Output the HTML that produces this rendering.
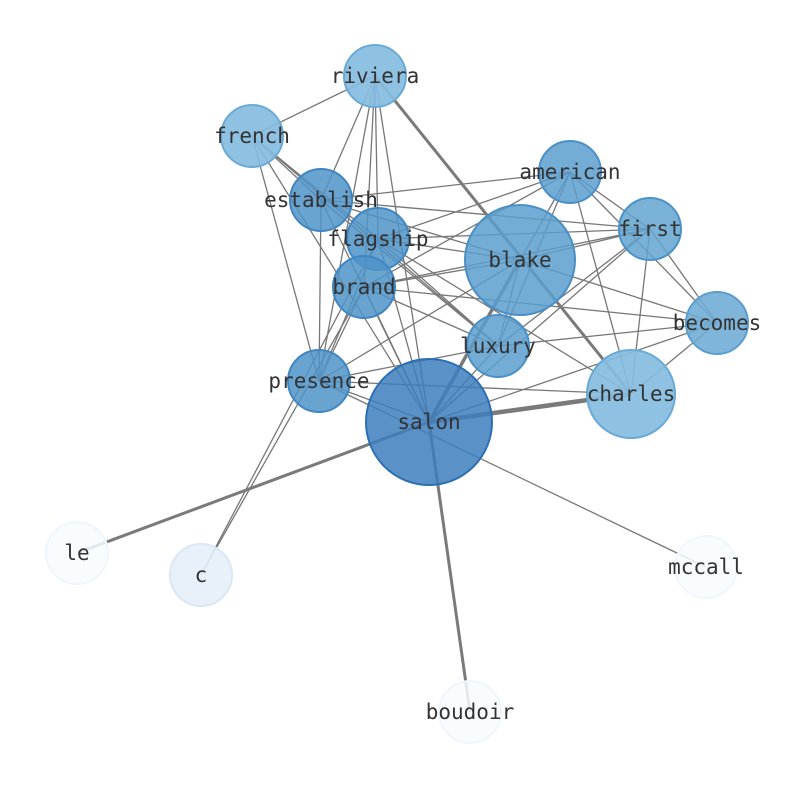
<!DOCTYPE html>
<html><head><meta charset="utf-8"><style>html,body{margin:0;padding:0;background:#fff}svg{display:block}</style></head>
<body>
<svg width="794" height="790" viewBox="0 0 794 790" xmlns="http://www.w3.org/2000/svg">
<g stroke="#777" stroke-width="1.3" fill="none">
<line x1="375" y1="76" x2="252" y2="136"/>
<line x1="375" y1="76" x2="321" y2="200"/>
<line x1="375" y1="76" x2="378" y2="239"/>
<line x1="375" y1="76" x2="364" y2="287"/>
<line x1="375" y1="76" x2="319" y2="381"/>
<line x1="375" y1="76" x2="429" y2="422"/>
<line x1="252" y1="136" x2="321" y2="200"/>
<line x1="252" y1="136" x2="378" y2="239"/>
<line x1="252" y1="136" x2="498" y2="346"/>
<line x1="252" y1="136" x2="319" y2="381"/>
<line x1="252" y1="136" x2="429" y2="422"/>
<line x1="321" y1="200" x2="570" y2="172"/>
<line x1="321" y1="200" x2="650" y2="229"/>
<line x1="321" y1="200" x2="520" y2="260"/>
<line x1="321" y1="200" x2="498" y2="346"/>
<line x1="321" y1="200" x2="429" y2="422"/>
<line x1="321" y1="200" x2="319" y2="381"/>
<line x1="570" y1="172" x2="378" y2="239"/>
<line x1="570" y1="172" x2="364" y2="287"/>
<line x1="570" y1="172" x2="650" y2="229"/>
<line x1="570" y1="172" x2="717" y2="323"/>
<line x1="570" y1="172" x2="631" y2="394"/>
<line x1="570" y1="172" x2="498" y2="346"/>
<line x1="570" y1="172" x2="429" y2="422"/>
<line x1="378" y1="239" x2="650" y2="229"/>
<line x1="378" y1="239" x2="520" y2="260"/>
<line x1="378" y1="239" x2="319" y2="381"/>
<line x1="378" y1="239" x2="498" y2="346"/>
<line x1="378" y1="239" x2="429" y2="422"/>
<line x1="378" y1="239" x2="631" y2="394"/>
<line x1="378" y1="239" x2="201" y2="575"/>
<line x1="364" y1="287" x2="520" y2="260"/>
<line x1="364" y1="287" x2="650" y2="229"/>
<line x1="364" y1="287" x2="717" y2="323"/>
<line x1="364" y1="287" x2="498" y2="346"/>
<line x1="364" y1="287" x2="319" y2="381"/>
<line x1="364" y1="287" x2="429" y2="422"/>
<line x1="364" y1="287" x2="201" y2="575"/>
<line x1="650" y1="229" x2="520" y2="260"/>
<line x1="650" y1="229" x2="498" y2="346"/>
<line x1="650" y1="229" x2="429" y2="422"/>
<line x1="650" y1="229" x2="717" y2="323"/>
<line x1="650" y1="229" x2="631" y2="394"/>
<line x1="520" y1="260" x2="717" y2="323"/>
<line x1="520" y1="260" x2="319" y2="381"/>
<line x1="520" y1="260" x2="498" y2="346"/>
<line x1="717" y1="323" x2="498" y2="346"/>
<line x1="717" y1="323" x2="631" y2="394"/>
<line x1="717" y1="323" x2="429" y2="422"/>
<line x1="498" y1="346" x2="319" y2="381"/>
<line x1="498" y1="346" x2="429" y2="422"/>
<line x1="319" y1="381" x2="429" y2="422"/>
<line x1="319" y1="381" x2="631" y2="394"/>
<line x1="319" y1="381" x2="706" y2="567"/>
</g>
<g stroke="#7a7a7a" fill="none">
<line x1="375" y1="76" x2="631" y2="394" stroke-width="3"/>
<line x1="429" y1="422" x2="631" y2="394" stroke-width="4.5"/>
<line x1="429" y1="422" x2="520" y2="260" stroke-width="3.5"/>
<line x1="429" y1="422" x2="77" y2="553" stroke-width="3"/>
<line x1="429" y1="422" x2="470" y2="712" stroke-width="3"/>
</g>
<g stroke-width="2">
<circle cx="375" cy="76" r="31" fill="#86bcdf" stroke="#6aaad6" fill-opacity=".92"/>
<circle cx="252" cy="136" r="31" fill="#86bcdf" stroke="#6aaad6" fill-opacity=".92"/>
<circle cx="570" cy="172" r="31" fill="#5b9dcc" stroke="#4a8fc6" fill-opacity=".85"/>
<circle cx="321" cy="200" r="31" fill="#4f93c8" stroke="#3f86c2" fill-opacity=".85"/>
<circle cx="650" cy="229" r="31" fill="#62a3d0" stroke="#4a93c8" fill-opacity=".85"/>
<circle cx="520" cy="260" r="55" fill="#5b9dcc" stroke="#4a8fc6" fill-opacity=".85"/>
<circle cx="378" cy="239" r="31" fill="#4f93c8" stroke="#3f86c2" fill-opacity=".85"/>
<circle cx="364" cy="287" r="31" fill="#4f93c8" stroke="#3f86c2" fill-opacity=".85"/>
<circle cx="717" cy="323" r="31" fill="#6eabd5" stroke="#5a9ed0" fill-opacity=".88"/>
<circle cx="498" cy="346" r="31" fill="#5b9dcc" stroke="#4a8fc6" fill-opacity=".85"/>
<circle cx="319" cy="381" r="31" fill="#4f93c8" stroke="#3f86c2" fill-opacity=".85"/>
<circle cx="631" cy="394" r="44" fill="#86bcdf" stroke="#6aaad6" fill-opacity=".92"/>
<circle cx="429" cy="422" r="63" fill="#3d7fbd" stroke="#2b6fb3" fill-opacity=".85"/>
<circle cx="77" cy="553" r="31" fill="#f7fbff" stroke="#f0f6fd" fill-opacity=".85"/>
<circle cx="201" cy="575" r="31" fill="#e6eef8" stroke="#dbe7f4" fill-opacity=".9"/>
<circle cx="706" cy="567" r="31" fill="#f7fbff" stroke="#f0f6fd" fill-opacity=".85"/>
<circle cx="470" cy="712" r="31" fill="#f7fbff" stroke="#f0f6fd" fill-opacity=".85"/>
</g>
<g font-family="'DejaVu Sans Mono','Liberation Mono',monospace" font-size="21" fill="#333" text-anchor="middle" dominant-baseline="central">
<text x="375" y="76">riviera</text>
<text x="252" y="136">french</text>
<text x="570" y="172">american</text>
<text x="321" y="200">establish</text>
<text x="650" y="229">first</text>
<text x="378" y="239">flagship</text>
<text x="520" y="260">blake</text>
<text x="364" y="287">brand</text>
<text x="717" y="323">becomes</text>
<text x="498" y="346">luxury</text>
<text x="319" y="381">presence</text>
<text x="631" y="394">charles</text>
<text x="429" y="422">salon</text>
<text x="77" y="553">le</text>
<text x="201" y="575">c</text>
<text x="706" y="567">mccall</text>
<text x="470" y="712">boudoir</text>
</g>
</svg>
</body></html>
